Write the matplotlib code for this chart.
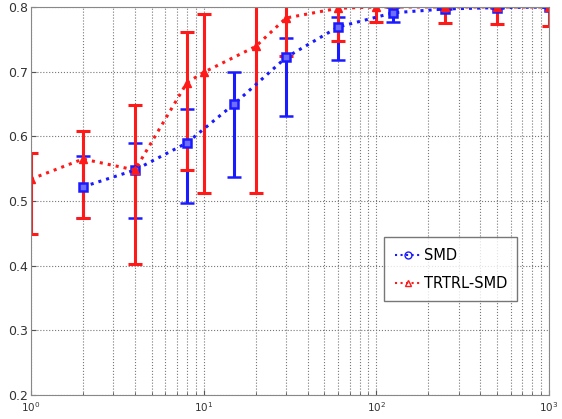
import matplotlib.pyplot as plt
from matplotlib.lines import Line2D
import numpy as np

# SMD (blue)
smd_x = [2, 4, 8, 15, 30, 60, 125, 250, 500, 1000]
smd_y = [0.522, 0.548, 0.590, 0.650, 0.722, 0.769, 0.791, 0.797, 0.799, 0.800]
smd_lo = [0.474, 0.474, 0.497, 0.537, 0.632, 0.718, 0.777, 0.797, 0.799, 0.800]
smd_hi = [0.570, 0.590, 0.643, 0.700, 0.752, 0.785, 0.800, 0.800, 0.800, 0.800]

# TRTRL-SMD (red)
tr_x = [1, 2, 4, 8, 10, 20, 30, 60, 100, 250, 500, 1000]
tr_y = [0.534, 0.565, 0.548, 0.683, 0.699, 0.739, 0.783, 0.798, 0.800, 0.800, 0.800, 0.800]
tr_lo = [0.449, 0.474, 0.402, 0.548, 0.512, 0.513, 0.725, 0.747, 0.777, 0.775, 0.774, 0.771]
tr_hi = [0.574, 0.608, 0.648, 0.762, 0.789, 0.965, 0.841, 0.849, 0.823, 0.825, 0.826, 0.829]

fig = plt.figure(figsize=(5.62, 4.19), dpi=100)
ax = fig.add_axes([0.0552, 0.057, 0.9217, 0.9263])

def bars(y, lo, hi):
    y = np.array(y)
    return np.vstack([y - np.array(lo), np.array(hi) - y])

blue = '#1a1aff'
red = '#ff1a1a'

ax.errorbar(smd_x, smd_y, yerr=bars(smd_y, smd_lo, smd_hi), color=blue,
            linestyle=':', linewidth=2.2, marker='s', markersize=6,
            markerfacecolor='#6f6fff', markeredgewidth=1.8,
            elinewidth=2.2, capsize=5, capthick=2.2)
ax.errorbar(tr_x, tr_y, yerr=bars(tr_y, tr_lo, tr_hi), color=red,
            linestyle=':', linewidth=2.2, marker='^', markersize=6,
            elinewidth=2.2, capsize=5, capthick=2.2)

ax.set_xscale('log')
ax.set_xlim(1, 1000)
ax.set_ylim(0.2, 0.8)
ax.set_yticks([0.2, 0.3, 0.4, 0.5, 0.6, 0.7, 0.8])
ax.set_yticklabels(['0.2', '0.3', '0.4', '0.5', '0.6', '0.7', '0.8'])

ax.grid(True, which='major', axis='both', linestyle=':', color='#777777', linewidth=0.8)
ax.grid(True, which='minor', axis='x', linestyle=':', color='#777777', linewidth=0.8)
ax.tick_params(axis='both', which='both', direction='in', colors='#555555',
               labelcolor='#333333', labelsize=9)
ax.tick_params(axis='y', pad=2)
ax.tick_params(axis='x', labelsize=7.5, pad=4)
for s in ax.spines.values():
    s.set_color('#888888')
    s.set_linewidth(0.8)

handles = [
    Line2D([], [], color=blue, linestyle=':', linewidth=1.5, marker='o',
           markersize=5, markerfacecolor='none', markeredgewidth=1.0),
    Line2D([], [], color=red, linestyle=':', linewidth=1.5, marker='^',
           markersize=4, markerfacecolor='none', markeredgewidth=1.0),
]
leg = ax.legend(handles, ['SMD', 'TRTRL-SMD'], loc='upper left',
                bbox_to_anchor=(0.668, 0.425), fancybox=False,
                edgecolor='#555555', fontsize=10.5, handlelength=1.8,
                handletextpad=0.2, labelspacing=0.9, borderpad=0.7)
leg.get_frame().set_linewidth(1.0)

plt.savefig('out.png', dpi=100)
